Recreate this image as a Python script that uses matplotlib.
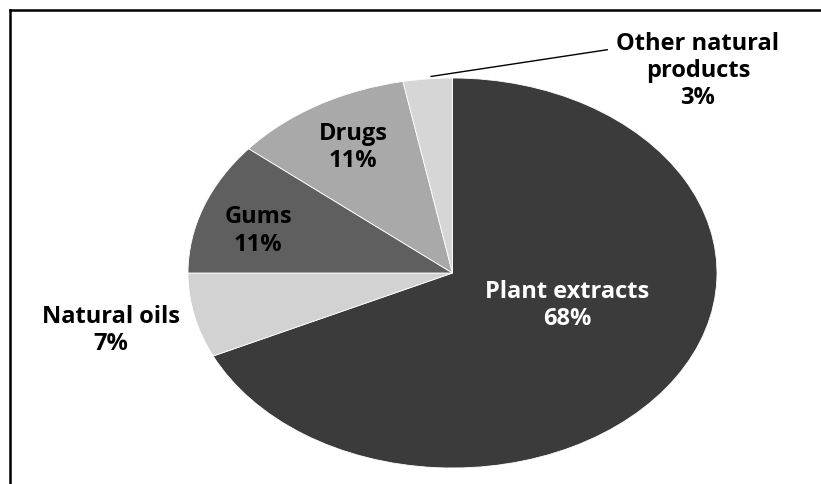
import matplotlib
matplotlib.use("Agg")
import matplotlib.pyplot as plt
from matplotlib.lines import Line2D

categories = ["Plant extracts", "Natural oils", "Gums", "Drugs", "Other natural\nproducts"]
values = [68, 7, 11, 11, 3]
pct_labels = ["68%", "7%", "11%", "11%", "3%"]
colors = ["#3b3b3b", "#d2d2d2", "#5f5f5f", "#a9a9a9", "#d6d6d6"]

W, H = 821, 485
fig = plt.figure(figsize=(W / 100, H / 100), dpi=100)
fig.patch.set_facecolor("white")

# pie occupies an elliptical region (stretched horizontally)
cx0, cx1 = 188, 717
cy0, cy1 = 79, 469
ax = fig.add_axes([cx0 / W, (H - cy1) / H, (cx1 - cx0) / W, (cy1 - cy0) / H])

wedges, _ = ax.pie(values, colors=colors, startangle=90, counterclock=False,
                   wedgeprops=dict(edgecolor="white", linewidth=0.6))
ax.set_aspect("auto")
ax.set_xlim(-1, 1)
ax.set_ylim(-1, 1)
ax.axis("off")

font = dict(family=["Open Sans", "DejaVu Sans"], fontweight="bold", fontsize=17)
label_pos = [(0.433, -0.16), (-1.29, -0.29), (-0.735, 0.22), (-0.376, 0.65), (0.928, 1.04)]
text_cols = ["white", "black", "black", "black", "black"]
for cat, pct, (x, y), c in zip(categories, pct_labels, label_pos, text_cols):
    ax.text(x, y, f"{cat}\n{pct}", ha="center", va="center", color=c,
            linespacing=1.18, clip_on=False, **font)

# leader line for the small slice
ax.add_line(Line2D([-0.081, 0.585], [1.008, 1.145], color="black", lw=1.0, clip_on=False))

# frame lines (top and left)
fig.add_artist(Line2D([10 / W, 1], [1 - 11 / H, 1 - 11 / H], color="black", lw=1.8,
                      transform=fig.transFigure))
fig.add_artist(Line2D([10 / W, 10 / W], [0, 1 - 11 / H], color="black", lw=1.8,
                      transform=fig.transFigure))

fig.savefig("out.png", dpi=100, facecolor="white")
